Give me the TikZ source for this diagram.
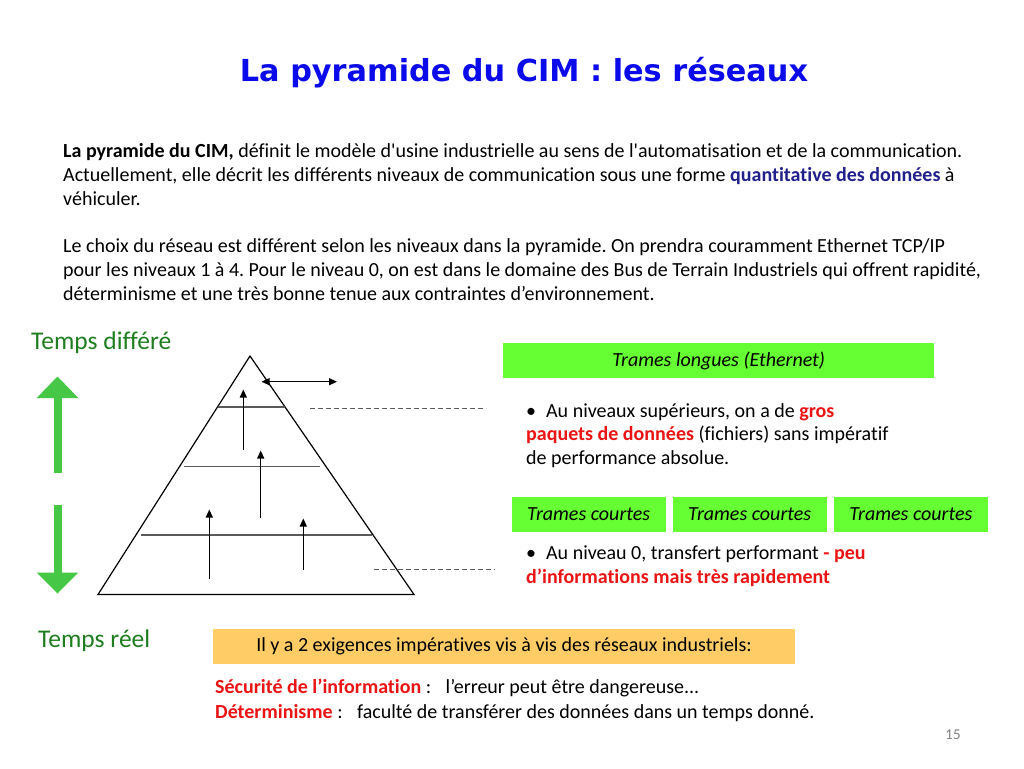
\documentclass[tikz,border=0pt]{standalone}
\usepackage{fontspec}
\setmainfont{Carlito}[Ligatures={TeX,NoCommon}]
\newfontfamily\titlefont{DejaVu Sans}
\usetikzlibrary{arrows.meta}
\definecolor{titleblue}{RGB}{10,10,235}
\definecolor{navyblue}{RGB}{32,32,140}
\definecolor{tgreen}{RGB}{30,125,30}
\definecolor{agreen}{RGB}{70,200,70}
\definecolor{boxgreen}{RGB}{102,255,51}
\definecolor{boxorange}{RGB}{255,204,102}
\definecolor{tred}{RGB}{235,20,20}
\definecolor{lgray}{RGB}{90,90,90}
\tikzset{
  body/.style={anchor=base west, inner sep=0pt, font=\fontsize{20}{24}\selectfont},
  side/.style={anchor=base west, inner sep=0pt, font=\fontsize{25.5}{30}\selectfont, text=tgreen},
  gbox/.style={fill=boxgreen, draw=none, inner sep=0pt, font=\fontsize{20}{24}\selectfont\itshape},
  level/.style={draw=lgray, line width=1.3pt},
  flow/.style={line width=1.2pt, -{Triangle[length=8pt,width=7pt]}},
  dashline/.style={draw=lgray, line width=1pt, dash pattern=on 5pt off 3pt},
  bigarrow/.style={fill=agreen, draw=none}
}
\newcommand{\sq}{\textquotesingle}
\frenchspacing
\begin{document}
\begin{tikzpicture}[x=1pt,y=-1pt]
\useasboundingbox (0,0) rectangle (1024,768);
\fill[white] (0,0) rectangle (1024,768);

% title
\node[inner sep=0pt, text=titleblue] (title) at (524,73)
  {\resizebox{568pt}{!}{\titlefont\bfseries La pyramide du CIM : les réseaux}};

% paragraph
\node[body] (l1) at (63,157) {\textbf{La pyramide du CIM,} définit le modèle d\sq usine industrielle au sens de l\sq automatisation et de la communication.};
\node[body] (l2) at (63,181) {Actuellement, elle décrit les différents niveaux de communication sous une forme {\bfseries\color{navyblue}quantitative des données} à};
\node[body] (l3) at (63,205) {véhiculer.};
\node[body] (l4) at (63,252) {Le choix du réseau est différent selon les niveaux dans la pyramide. On prendra couramment Ethernet TCP/IP};
\node[body] (l5) at (63,276) {pour les niveaux 1 à 4. Pour le niveau 0, on est dans le domaine des Bus de Terrain Industriels qui offrent rapidité,};
\node[body] (l6) at (63,300) {déterminisme et une très bonne tenue aux contraintes d’environnement.};

% side labels
\node[side] (td) at (31,349) {Temps différé};
\node[side] (tr) at (38,647) {Temps réel};

% green arrows
\fill[bigarrow] (54.3,398) rectangle (61.7,472.5);
\fill[bigarrow] (36.7,398) -- (57.5,376.5) -- (78.3,398) -- cycle;
\fill[bigarrow] (54.3,505) rectangle (61.7,572.5);
\fill[bigarrow] (36.7,572.5) -- (57.5,593.5) -- (78.3,572.5) -- cycle;

% pyramid
\coordinate (apex) at (250,356);
\coordinate (bl) at (98,594.5);
\coordinate (br) at (414,594.5);
\draw[line width=1.2pt] (apex) -- (bl) -- (br) -- cycle;
\coordinate (a1) at (218,407); \coordinate (b1) at (285,407);
\coordinate (a2) at (184,466.7); \coordinate (b2) at (320,466.7);
\coordinate (a3) at (141,535); \coordinate (b3) at (372,535);
\draw[level] (a1) -- (b1);
\draw[level] (a2) -- (b2);
\draw[level] (a3) -- (b3);

% flow arrows
\coordinate (h1) at (261.5,381.7); \coordinate (h2) at (337,381.7);
\draw[line width=1.2pt, {Triangle[length=8pt,width=7pt]}-{Triangle[length=8pt,width=7pt]}] (h1) -- (h2);
\coordinate (f1s) at (243.3,449.5); \coordinate (f1e) at (243.3,389.5);
\coordinate (f2s) at (260.7,518); \coordinate (f2e) at (260.7,450.5);
\coordinate (f3s) at (209.3,578.5); \coordinate (f3e) at (209.3,509.5);
\coordinate (f4s) at (303.3,569.5); \coordinate (f4e) at (303.3,518.5);
\draw[flow] (f1s) -- (f1e);
\draw[flow] (f2s) -- (f2e);
\draw[flow] (f3s) -- (f3e);
\draw[flow] (f4s) -- (f4e);

% dashed lines
\coordinate (d1a) at (310,408.3); \coordinate (d1b) at (486,408.3);
\coordinate (d2a) at (374.3,569); \coordinate (d2b) at (495,569);
\draw[dashline] (d1a) -- (d1b);
\draw[dashline] (d2a) -- (d2b);

% green boxes
\node[gbox, minimum width=430.7pt, minimum height=35pt] (tl) at (718.7,360.8) {Trames longues (Ethernet)};
\node[gbox, minimum width=154pt, minimum height=35pt] (tc1) at (588.7,514.2) {Trames courtes};
\node[gbox, minimum width=154pt, minimum height=35pt] (tc2) at (749.7,514.2) {Trames courtes};
\node[gbox, minimum width=154pt, minimum height=35pt] (tc3) at (910.9,514.2) {Trames courtes};

% bullet texts
\node[body] (b1l1) at (526,417) {•\hspace{0.5em}Au niveaux supérieurs, on a de {\bfseries\color{tred}gros}};
\node[body] (b1l2) at (526,440) {{\bfseries\color{tred}paquets de données} (fichiers) sans impératif};
\node[body] (b1l3) at (526,464) {de performance absolue.};
\node[body] (b2l1) at (526,559) {•\hspace{0.5em}Au niveau 0, transfert performant {\bfseries\color{tred}- peu}};
\node[body] (b2l2) at (526,583) {{\bfseries\color{tred}d’informations mais très rapidement}};

% orange box
\node[fill=boxorange, inner sep=0pt, minimum width=582pt, minimum height=35pt, font=\fontsize{20}{24}\selectfont] (ob) at (504,646.5) {Il y a 2 exigences impératives vis à vis des réseaux industriels:};

\node[body] (r1) at (215,693) {{\bfseries\color{tred}Sécurité de l’information} :\hspace{0.5em} l’erreur peut être dangereuse...};
\node[body] (r2) at (215,718) {{\bfseries\color{tred}Déterminisme} :\hspace{0.5em} faculté de transférer des données dans un temps donné.};

\node[anchor=base, inner sep=0pt, text=gray, font=\fontsize{15}{18}\selectfont] (pg) at (953,739) {15};
\end{tikzpicture}
\end{document}
